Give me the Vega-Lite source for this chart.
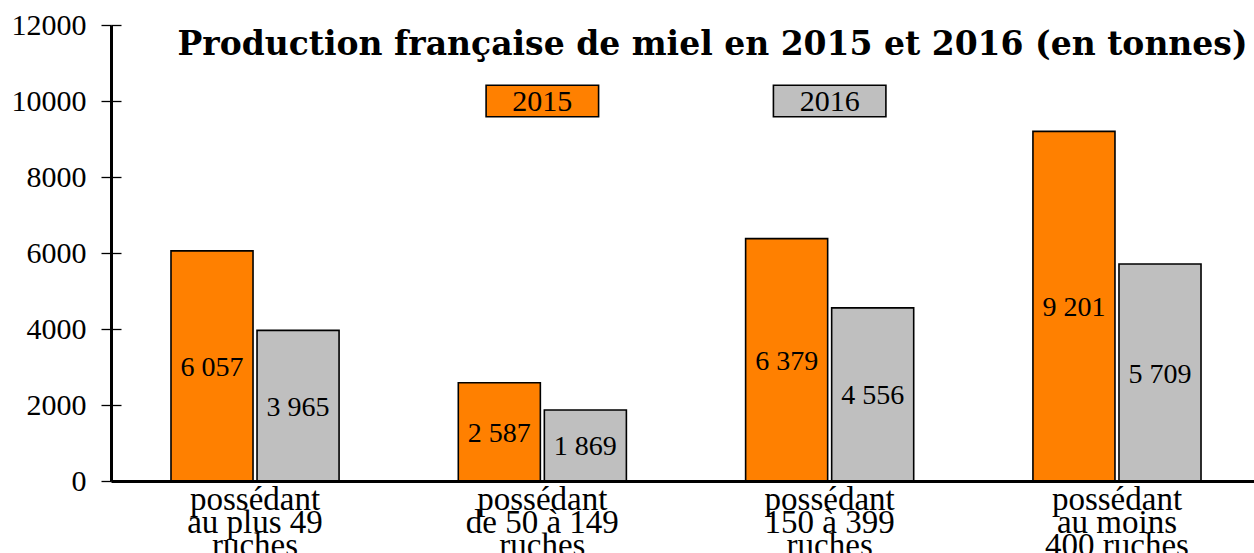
{
  "$schema": "https://vega.github.io/schema/vega-lite/v6.json",
  "width": 1143,
  "height": 456,
  "autosize": {"type": "none"},
  "padding": {"left": 111, "top": 25, "right": 0, "bottom": 72},
  "background": "white",
  "config": {
    "view": {"stroke": null},
    "font": "Liberation Serif",
    "locale": {"number": {"decimal": ",", "thousands": " ", "grouping": [3], "currency": ["", " €"]}}
  },
  "title": {
    "text": "Production française de miel en 2015 et 2016 (en tonnes)",
    "font": "DejaVu Serif",
    "fontSize": 33,
    "fontWeight": "bold",
    "color": "black",
    "anchor": "middle",
    "frame": "group",
    "dx": 30,
    "dy": 49,
    "offset": -29,
    "baseline": "alphabetic"
  },
  "datasets": {
    "prod": [
      {"cat": "possédant\nau plus 49\nruches", "year": "2015", "value": 6057},
      {"cat": "possédant\nau plus 49\nruches", "year": "2016", "value": 3965},
      {"cat": "possédant\nde 50 à 149\nruches", "year": "2015", "value": 2587},
      {"cat": "possédant\nde 50 à 149\nruches", "year": "2016", "value": 1869},
      {"cat": "possédant\n150 à 399\nruches", "year": "2015", "value": 6379},
      {"cat": "possédant\n150 à 399\nruches", "year": "2016", "value": 4556},
      {"cat": "possédant\nau moins\n400 ruches", "year": "2015", "value": 9201},
      {"cat": "possédant\nau moins\n400 ruches", "year": "2016", "value": 5709}
    ],
    "leg": [
      {"cat": "possédant\nde 50 à 149\nruches", "year": "2015", "level": 10000},
      {"cat": "possédant\n150 à 399\nruches", "year": "2016", "level": 10000}
    ]
  },
  "encoding": {
    "x": {
      "field": "cat",
      "type": "nominal",
      "sort": null,
      "scale": {"paddingInner": 0.415, "paddingOuter": 0.1966, "align": 0.531},
      "axis": {
        "title": null,
        "orient": "bottom",
        "ticks": false,
        "tickSize": 0,
        "labelPadding": 2,
        "labelAngle": 0,
        "labelFont": "Liberation Serif",
        "labelFontSize": 33,
        "labelLineHeight": 23,
        "labelColor": "black",
        "labelLimit": 0,
        "labelExpr": "split(datum.value, '\\n')",
        "domainColor": "black",
        "domainWidth": 3,
        "zindex": 1
      }
    }
  },
  "layer": [
    {
      "layer": [
        {
          "data": {"name": "prod"},
          "mark": {"type": "bar", "stroke": "black", "strokeWidth": 1.6},
          "encoding": {
            "xOffset": {"field": "year", "type": "nominal", "sort": null, "scale": {"paddingInner": 0.0465, "paddingOuter": 0}},
            "y": {
              "field": "value",
              "type": "quantitative",
              "scale": {"domain": [0, 12000], "nice": false, "zero": true},
              "axis": {
                "title": null,
                "orient": "left",
                "values": [0, 2000, 4000, 6000, 8000, 10000, 12000],
                "format": "d",
                "grid": true,
                "gridDash": [10, 3000],
                "gridColor": "black",
                "gridWidth": 1.3,
                "gridOpacity": 1,
                "labelFont": "Liberation Serif",
                "labelFontSize": 30,
                "labelColor": "black",
                "labelPadding": 15,
                "tickSize": 10,
                "tickColor": "black",
                "tickWidth": 1.3,
                "domainColor": "black",
                "domainWidth": 3,
                "zindex": 1
              }
            },
            "color": {
              "field": "year",
              "type": "nominal",
              "scale": {"domain": ["2015", "2016"], "range": ["#ff8000", "#bfbfbf"]},
              "legend": null
            }
          }
        },
        {
          "data": {"name": "leg"},
          "mark": {"type": "point", "shape": "M-1,-0.28H1V0.28H-1Z", "size": 12656, "filled": true, "opacity": 1, "stroke": "black", "strokeWidth": 1.6},
          "encoding": {
            "y": {"field": "level", "type": "quantitative"},
            "color": {"field": "year", "type": "nominal", "legend": null}
          }
        },
        {
          "data": {"name": "leg"},
          "mark": {"type": "text", "font": "Liberation Serif", "fontSize": 30, "color": "black", "baseline": "middle", "dy": 1},
          "encoding": {
            "y": {"field": "level", "type": "quantitative"},
            "text": {"field": "year", "type": "nominal"}
          }
        }
      ]
    },
    {
      "data": {"name": "prod"},
      "mark": {"type": "text", "font": "Liberation Serif", "fontSize": 28, "color": "black", "baseline": "middle", "dy": 2},
      "encoding": {
        "xOffset": {"field": "year", "type": "nominal", "sort": null},
        "y": {
          "field": "value",
          "type": "quantitative",
          "scale": {"domain": [0, 24000], "nice": false, "zero": true},
          "axis": null
        },
        "text": {"field": "value", "type": "quantitative", "format": ",d"}
      }
    }
  ],
  "resolve": {"scale": {"y": "independent"}}
}
